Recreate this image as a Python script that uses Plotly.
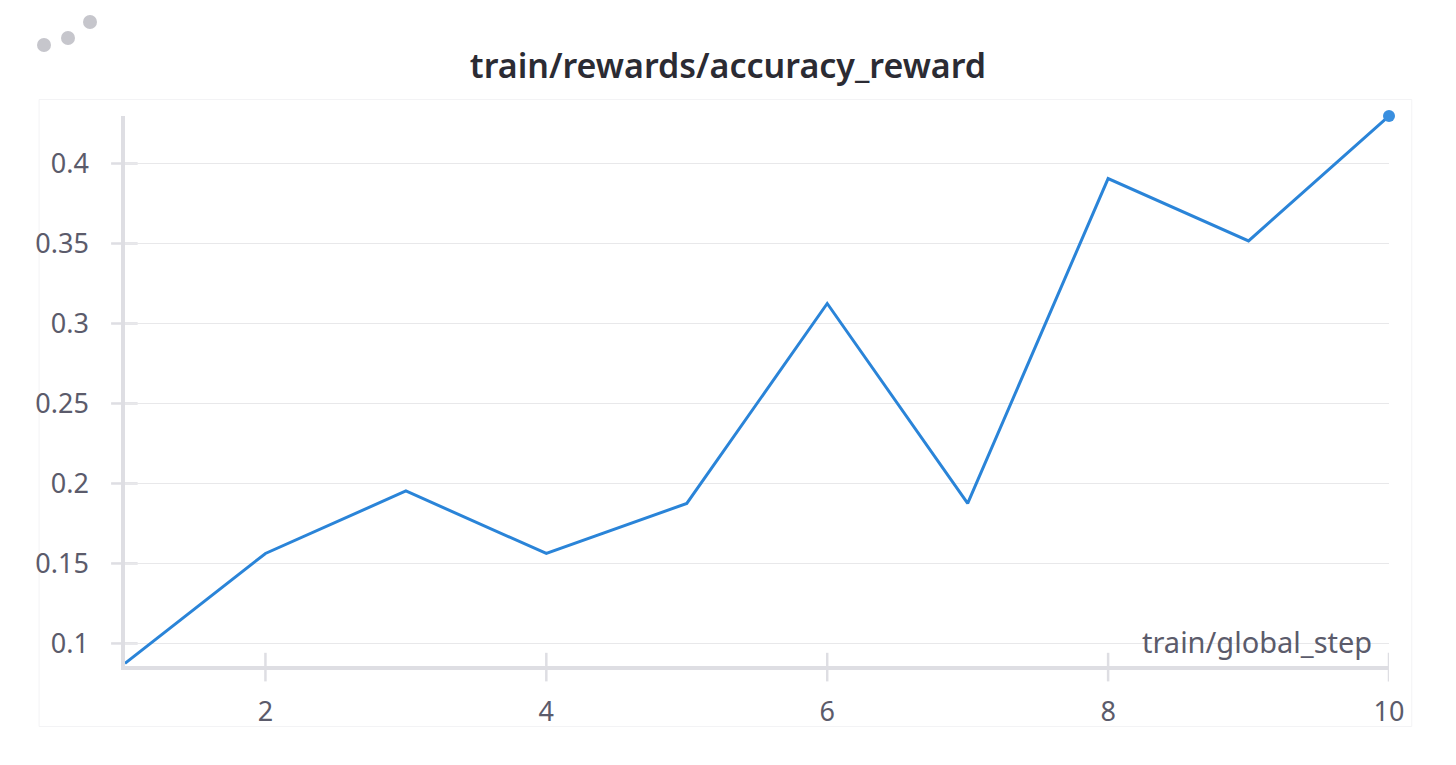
import plotly.graph_objects as go

steps = [1, 2, 3, 4, 5, 6, 7, 8, 9, 10]
accuracy_reward = [0.0875, 0.15625, 0.1953, 0.15625, 0.1875, 0.3125, 0.1875, 0.3906, 0.3516, 0.4297]
x_tickvals = [2, 4, 6, 8, 10]
y_tickvals = [0.1, 0.15, 0.2, 0.25, 0.3, 0.35, 0.4]
y_ticktext = ["0.1", "0.15", "0.2", "0.25", "0.3", "0.35", "0.4"]

LINE = "#2a84d8"
AXIS = "#dedee3"
GRID = "#e8e8ea"
TXT = "#5b5b6b"
FONT = "Noto Sans"

W, H = 1456, 765
l, r, t, b = 117, 75, 108, 107
pw, ph = W - l - r, H - t - b

fig = go.Figure()
fig.add_trace(go.Scatter(
    x=steps, y=accuracy_reward, mode="lines",
    line=dict(color=LINE, width=3), cliponaxis=False, hoverinfo="skip",
))
fig.add_trace(go.Scatter(
    x=steps[-1:], y=accuracy_reward[-1:], mode="markers",
    marker=dict(color="#3a8fdf", size=12), cliponaxis=False, hoverinfo="skip",
))

shapes = []
for v in x_tickvals:
    shapes.append(dict(type="line", xref="x", yref="paper", x0=v, x1=v, y0=-0.028, y1=0.024,
                       line=dict(color=AXIS, width=2.5), layer="below"))
for v in y_tickvals:
    shapes.append(dict(type="line", xref="paper", yref="y", x0=-0.011, x1=0.01, y0=v, y1=v,
                       line=dict(color=AXIS, width=2.5), layer="below"))
shapes.append(dict(type="rect", xref="paper", yref="paper", x0=-0.068, x1=1.018, y0=-0.11, y1=1.03,
                   line=dict(color="#f3f3f5", width=1), layer="below"))
for cx, cy, rad in [(36, 37, 7), (60, 30, 7), (82, 14, 7)]:
    shapes.append(dict(type="circle", xref="paper", yref="paper",
                       x0=(cx - rad - l) / pw, x1=(cx + rad - l) / pw,
                       y0=(H - b - (cy + rad)) / ph, y1=(H - b - (cy - rad)) / ph,
                       fillcolor="#c6c6cc", line=dict(width=0)))

fig.update_layout(
    width=W, height=H,
    margin=dict(l=l, r=r, t=t, b=b),
    paper_bgcolor="white", plot_bgcolor="white",
    showlegend=False,
    font=dict(family=FONT, color=TXT, size=27),
    title=dict(text="train/rewards/accuracy_reward", x=(727 - 7) / W, xanchor="center",
               y=1 - 58 / H, yanchor="middle",
               font=dict(family=FONT, size=34, color="#2b2b33", weight=600)),
    xaxis=dict(range=[1, 10], tickvals=x_tickvals, ticks="", showgrid=False, zeroline=False,
               showline=True, linecolor=AXIS, linewidth=3.5, tickfont=dict(size=27, color=TXT),
               ticklabelstandoff=19),
    yaxis=dict(range=[0.0859, 0.4297], tickvals=y_tickvals, ticktext=y_ticktext, ticks="",
               showgrid=True, gridcolor=GRID, gridwidth=1, zeroline=False,
               showline=True, linecolor=AXIS, linewidth=3.5, tickfont=dict(size=27, color=TXT),
               ticklabelstandoff=27),
    shapes=shapes,
    annotations=[dict(text="train/global_step", xref="paper", yref="paper", x=0.988, y=0.045,
                      xanchor="right", yanchor="middle", showarrow=False,
                      font=dict(family=FONT, size=29, color=TXT))],
)

fig.write_html("out.html")
